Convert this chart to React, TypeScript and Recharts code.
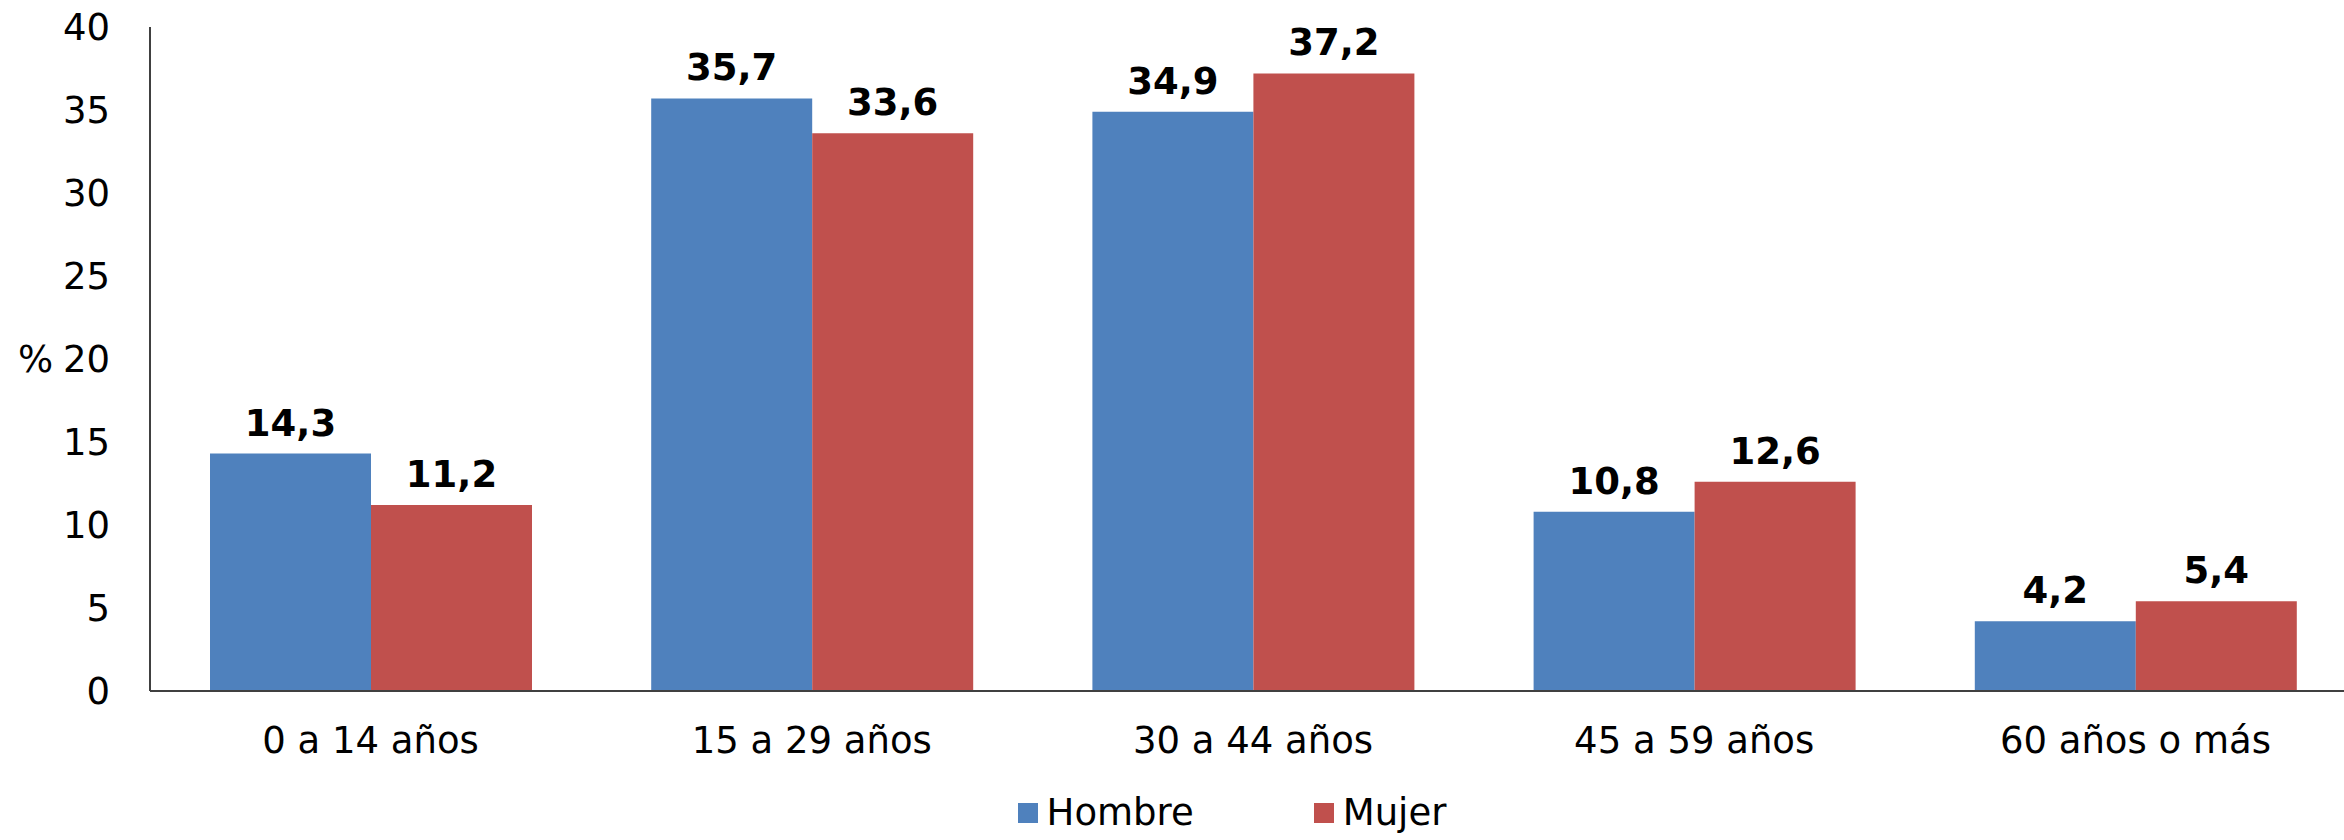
import React from "react";
import { BarChart, Bar, XAxis, YAxis, Legend, LabelList } from "recharts";

const grupos = ["0 a 14 años", "15 a 29 años", "30 a 44 años", "45 a 59 años", "60 años o más"];
const hombre = [14.3, 35.7, 34.9, 10.8, 4.2];
const mujer = [11.2, 33.6, 37.2, 12.6, 5.4];
const yTicks = [0, 5, 10, 15, 20, 25, 30, 35, 40];

const series = [
  { key: "hombre", name: "Hombre", color: "#4F81BD" },
  { key: "mujer", name: "Mujer", color: "#C0504D" },
];

const data = grupos.map((grupo, i) => ({ grupo, hombre: hombre[i], mujer: mujer[i] }));

const fmt = (v: any) => Number(v).toFixed(1).replace(".", ",");

const LeyendaCustom = () => (
  <div style={{ display: "flex", justifyContent: "center", paddingLeft: 108, height: 50, alignItems: "center" }}>
    {series.map((s, i) => (
      <div key={s.key} style={{ display: "flex", alignItems: "center", marginLeft: i === 0 ? 0 : 120 }}>
        <span style={{ width: 20, height: 20, background: s.color, display: "inline-block", marginRight: 9 }} />
        <span style={{ fontSize: 37, color: "#000", lineHeight: "50px" }}>{s.name}</span>
      </div>
    ))}
  </div>
);

export default function App() {
  return (
    <div
      style={{
        position: "absolute",
        top: 0,
        left: 0,
        width: 2344,
        height: 840,
        overflow: "hidden",
        background: "#fff",
        fontFamily: "'DejaVu Sans', Verdana, sans-serif",
      }}
    >
      <BarChart
        width={2360}
        height={880}
        data={data}
        margin={{ top: 27, right: 4, left: 0, bottom: 42 }}
        barCategoryGap={60}
        barGap={0}
      >
        <XAxis
          dataKey="grupo"
          interval={0}
          tickLine={false}
          tickSize={0}
          tickMargin={36}
          height={97}
          axisLine={{ stroke: "#404040", strokeWidth: 2 }}
          tick={{ fontSize: 37, fill: "#000" }}
        />
        <YAxis
          domain={[0, 40]}
          ticks={yTicks}
          width={150}
          tickLine={false}
          tickSize={0}
          tickMargin={40}
          axisLine={{ stroke: "#404040", strokeWidth: 2 }}
          tick={{ fontSize: 37, fill: "#000" }}
          label={{ value: "%", angle: 0, position: "insideLeft", offset: 18, fontSize: 37, fill: "#000" }}
        />
        <Legend verticalAlign="bottom" content={LeyendaCustom} wrapperStyle={{ height: 50 }} />
        {series.map((s) => (
          <Bar key={s.key} dataKey={s.key} name={s.name} fill={s.color} isAnimationActive={false}>
            <LabelList
              dataKey={s.key}
              position="top"
              offset={18}
              formatter={fmt}
              style={{ fontSize: 37, fontWeight: "bold", fill: "#000" }}
            />
          </Bar>
        ))}
      </BarChart>
    </div>
  );
}
